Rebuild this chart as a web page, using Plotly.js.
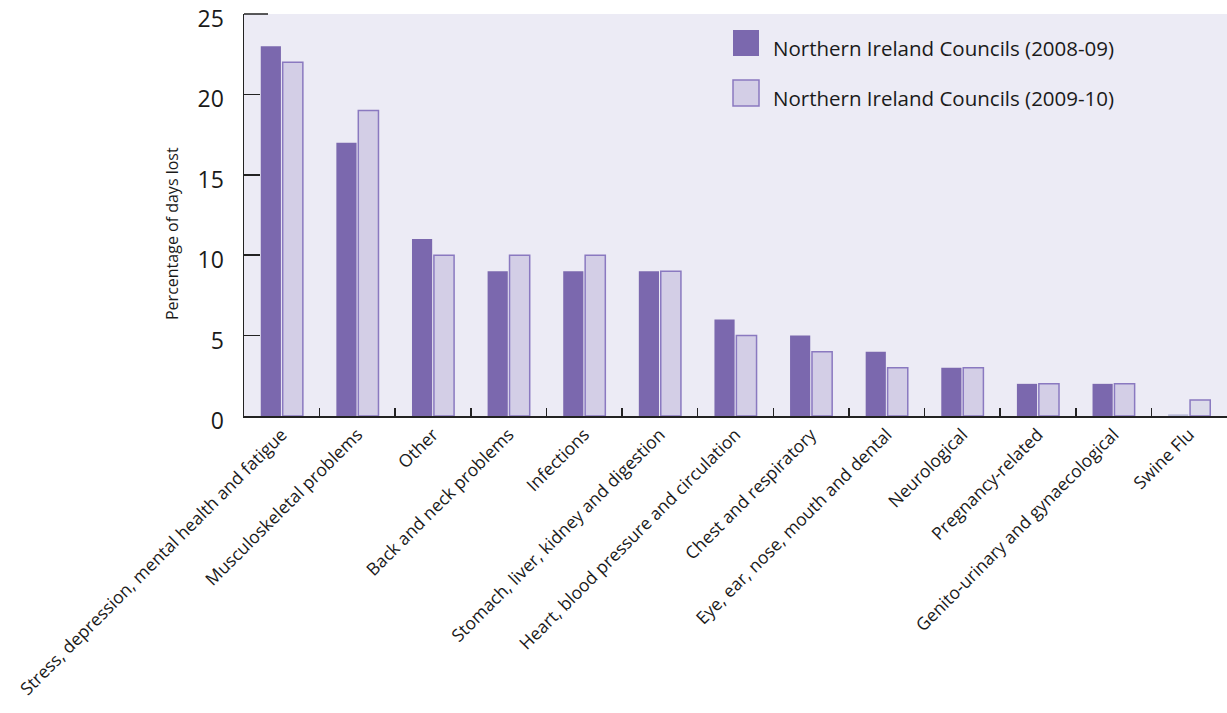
<!DOCTYPE html>
<html>
<head>
<meta charset="utf-8">
<script src="https://cdn.plot.ly/plotly-3.0.1.min.js"></script>
<style>html,body{margin:0;padding:0;background:#fff;}#chart{width:1227px;height:713px;}</style>
</head>
<body>
<div id="chart"></div>
<script>
const categories = [
  "Stress, depression, mental health and fatigue",
  "Musculoskeletal problems",
  "Other",
  "Back and neck problems",
  "Infections",
  "Stomach, liver, kidney and digestion",
  "Heart, blood pressure and circulation",
  "Chest and respiratory",
  "Eye, ear, nose, mouth and dental",
  "Neurological",
  "Pregnancy-related",
  "Genito-urinary and gynaecological",
  "Swine Flu"
];
const series2008Name = "Northern Ireland Councils (2008-09)";
const series2009Name = "Northern Ireland Councils (2009-10)";
const values2008 = [23, 17, 11, 9, 9, 9, 6, 5, 4, 3, 2, 2, 0.1];
const values2009 = [22, 19, 10, 10, 10, 9, 5, 4, 3, 3, 2, 2, 1];
const yTicks = [0, 5, 10, 15, 20, 25];
const yTitle = "Percentage of days lost";

const dark = "#7b68ae";
const lightFill = "#d3cee6";
const lightLine = "#8a79c0";
const swineDark = "#b5b7d6";
const swineLight = "#dcdbea";

const darkColors = categories.map(c => c === "Swine Flu" ? swineDark : dark);
const lightColors = categories.map(c => c === "Swine Flu" ? swineLight : lightFill);

const traces = [
  {
    type: "bar", name: series2008Name, x: categories, y: values2008,
    marker: { color: darkColors, line: { width: 0 } },
    showlegend: false, hoverinfo: "x+y"
  },
  {
    type: "bar", name: series2009Name, x: categories, y: values2009,
    marker: { color: lightColors, line: { color: lightLine, width: 1.5 } },
    showlegend: false, hoverinfo: "x+y"
  }
];

const px = v => (v - 244) / 983;
const py = v => (416 - v) / 402;

const layout = {
  width: 1227, height: 713,
  margin: { l: 244, r: 0, t: 14, b: 297, pad: 0 },
  paper_bgcolor: "#ffffff",
  plot_bgcolor: "#ecebf5",
  barmode: "group",
  bargap: 0.42,
  bargroupgap: 0.08,
  font: { family: "Open Sans, DejaVu Sans, sans-serif", color: "#1a1a1a" },
  xaxis: {
    type: "category",
    showline: true, linecolor: "#222", linewidth: 1.5,
    ticks: "inside", ticklen: 8, tickcolor: "#222", tickwidth: 1.5,
    tickson: "boundaries",
    tickangle: -45,
    tickfont: { size: 17.5, family: "Open Sans, DejaVu Sans, sans-serif", color: "#1a1a1a" },
    showgrid: false, zeroline: false, fixedrange: true
  },
  yaxis: {
    range: [0, 25],
    tickvals: yTicks,
    ticktext: yTicks.map(String),
    showline: true, linecolor: "#222", linewidth: 1.5,
    ticks: "inside", ticklen: 16, tickcolor: "#222", tickwidth: 1.5,
    ticklabelstandoff: 14,
    ticklabelshift: 5,
    ticklabeloverflow: "allow",
    tickfont: { size: 23, family: "Open Sans, DejaVu Sans, sans-serif", color: "#1a1a1a" },
    showgrid: false, zeroline: false, fixedrange: true
  },
  shapes: [
    { type: "rect", xref: "paper", yref: "paper", x0: px(733), x1: px(759), y0: py(56), y1: py(30),
      fillcolor: dark, line: { width: 0 } },
    { type: "rect", xref: "paper", yref: "paper", x0: px(733), x1: px(759), y0: py(106), y1: py(80),
      fillcolor: lightFill, line: { color: lightLine, width: 1.5 } },
    { type: "line", xref: "paper", yref: "paper", x0: 0, x1: px(268), y0: 1, y1: 1,
      line: { color: "#222", width: 1.5 } }
  ],
  annotations: [
    { xref: "paper", yref: "paper", x: px(771), y: py(48), xanchor: "left", yanchor: "middle",
      text: series2008Name, showarrow: false, font: { size: 20.5, color: "#1a1a1a" } },
    { xref: "paper", yref: "paper", x: px(771), y: py(98), xanchor: "left", yanchor: "middle",
      text: series2009Name, showarrow: false, font: { size: 20.5, color: "#1a1a1a" } },
    { xref: "paper", yref: "paper", x: px(172), y: py(234), xanchor: "center", yanchor: "middle",
      text: yTitle, textangle: -90, showarrow: false, font: { size: 16, color: "#1a1a1a" } }
  ]
};

Plotly.newPlot("chart", traces, layout, { displayModeBar: false, staticPlot: true });
</script>
</body>
</html>
